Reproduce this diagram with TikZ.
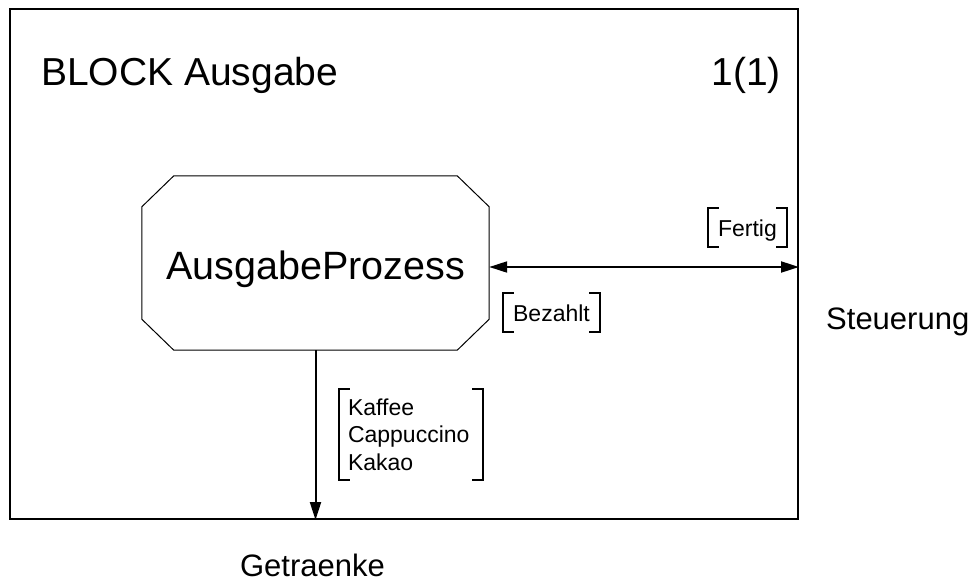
\documentclass[tikz,border=0pt]{standalone}
\usepackage{fontspec}
\setmainfont{Liberation Sans}
\usetikzlibrary{positioning,calc}
\usetikzlibrary{arrows.meta}
\tikzset{
  blockframe/.style={draw=black,line width=2pt,minimum width=788pt,minimum height=510pt,inner sep=0pt},
  proc/.style={minimum width=347pt,minimum height=174pt,inner sep=0pt,
    font=\fontsize{39.5}{47}\selectfont,text height=36pt,text depth=4pt},
  procline/.style={draw=black,line width=1pt},
  sig/.style={inner xsep=10pt,inner ysep=8pt,align=left,font=\fontsize{23}{27.5}\selectfont},
  brk/.style={draw=black,line width=2pt},
  flow/.style={draw=black,line width=2pt,-{Triangle[length=18pt,width=11pt]}},
  title/.style={font=\fontsize{39}{46}\selectfont,inner sep=0pt},
  chan/.style={font=\fontsize{31}{37}\selectfont,inner sep=0pt},
}
\newcommand\sigbrackets[1]{%
  \draw[brk] ([xshift=11pt]#1.north west) -| (#1.south west) -- ++(11pt,0);
  \draw[brk] ([xshift=-11pt]#1.north east) -| (#1.south east) -- ++(-11pt,0);
}

\begin{document}
\begin{tikzpicture}[x=1pt,y=-1pt]
  \useasboundingbox (0,0) rectangle (974,584);
  \node[blockframe] (blk) at (404,264) {};
  \node[title,anchor=base west] (name) at (41,85) {BLOCK Ausgabe};
  \node[title,anchor=base east] (page) at (781,85) {1(1)};
  % process
  \node[proc] (proc) at (315.5,263) {AusgabeProzess};
  \draw[procline] ([xshift=32pt]proc.north west) -- ([xshift=-32pt]proc.north east)
    -- ([yshift=-31pt]proc.north east) -- ([yshift=31pt]proc.south east)
    -- ([xshift=-32pt]proc.south east) -- ([xshift=32pt]proc.south west)
    -- ([yshift=31pt]proc.south west) -- ([yshift=-31pt]proc.north west) -- cycle;
  % channels
  \coordinate (steu) at (blk.east |- 0,267);
  \coordinate (getr) at (proc.south |- blk.south);
  \draw[flow,{Triangle[length=18pt,width=11pt]}-{Triangle[length=18pt,width=11pt]}] (proc.east |- steu) -- (steu);
  \draw[flow] (proc.south) -- (getr);
  \node[chan,anchor=base west] (steuname) at (826,329) {Steuerung};
  \node[chan,anchor=base] (getrname) at (312.5,576) {Getraenke};
  % signal lists
  \node[sig,text height=20pt,text depth=3pt] (fertig) at (747.4,227.5) {Fertig};
  \node[sig,text height=20pt,text depth=3pt] (bezahlt) at (551.5,312.5) {Bezahlt};
  \node[sig,inner xsep=9pt,text width=126pt,minimum height=91pt] (drinks) at (411,434.5) {Kaffee\\Cappuccino\\Kakao};
  \sigbrackets{fertig}
  \sigbrackets{bezahlt}
  \sigbrackets{drinks}
\end{tikzpicture}
\end{document}
